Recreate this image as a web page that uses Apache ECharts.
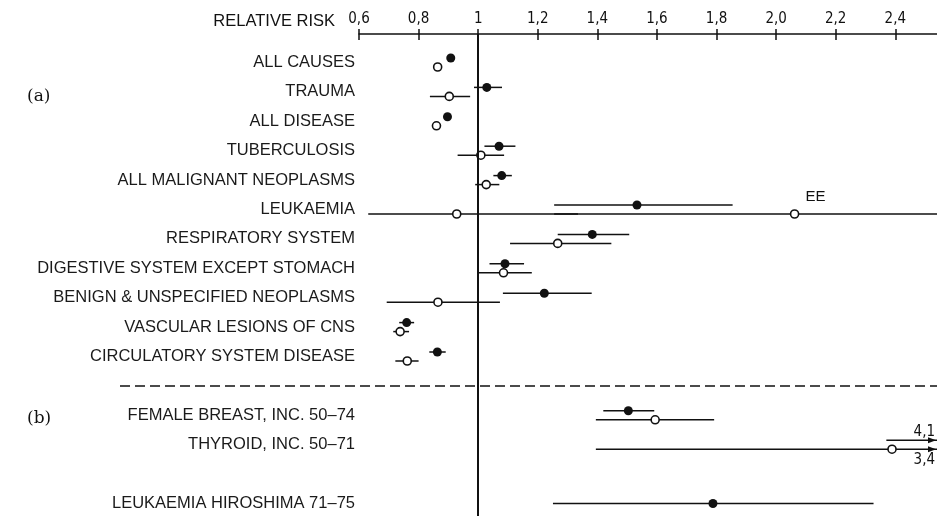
<!DOCTYPE html>
<html><head><meta charset="utf-8">
<script src="https://cdn.jsdelivr.net/npm/echarts@6/dist/echarts.min.js"></script>
<style>html,body{margin:0;padding:0;background:#fff}#c{width:937px;height:516px}</style>
</head><body><div id="c"></div>
<script>
// ---- data ----
const categories = [
  'ALL CAUSES', 'TRAUMA', 'ALL DISEASE', 'TUBERCULOSIS', 'ALL MALIGNANT NEOPLASMS',
  'LEUKAEMIA', 'RESPIRATORY SYSTEM', 'DIGESTIVE SYSTEM EXCEPT STOMACH',
  'BENIGN & UNSPECIFIED NEOPLASMS', 'VASCULAR LESIONS OF CNS', 'CIRCULATORY SYSTEM DISEASE',
  '', 'FEMALE BREAST, INC. 50–74', 'THYROID, INC. 50–71', '', 'LEUKAEMIA HIROSHIMA 71–75'
];
const tickValues = [0.6, 0.8, 1.0, 1.2, 1.4, 1.6, 1.8, 2.0, 2.2, 2.4];
const tickLabels = ['0,6', '0,8', '1', '1,2', '1,4', '1,6', '1,8', '2,0', '2,2', '2,4'];

const filledRR = [0.908, 1.029, 0.897, 1.070, 1.079, 1.533, 1.383, 1.090, 1.222, 0.760, 0.863, null, 1.504, null, null, 1.788];
const filledLo = [null, 0.986, null, 1.021, 1.051, 1.255, 1.267, 1.038, 1.083, 0.735, 0.836, null, 1.420, 2.370, null, 1.251];
const filledHi = [null, 1.080, null, 1.125, 1.113, 1.854, 1.507, 1.154, 1.381, 0.785, 0.891, null, 1.591, 4.1, null, 2.327];

const openRR = [0.864, 0.903, 0.860, 1.009, 1.027, 0.928, 1.267, 1.085, 0.865, 0.738, 0.762, null, 1.594, 2.389, null, null];
const openLo = [null, 0.838, null, 0.931, 0.990, 0.631, 1.107, 1.000, 0.693, 0.715, 0.722, null, 1.395, 1.395, null, null];
const openHi = [null, 0.973, null, 1.087, 1.071, 1.335, 1.447, 1.180, 1.073, 0.768, 0.800, null, 1.792, 3.4, null, null];

// extra open estimate on the leukaemia row (upper limit off the scale, not given)
const extraRow = [5];
const extraRR = [2.062];
const extraLo = [1.255];
const extraHi = [null];
const extraLabel = ['EE'];

// ---- layout ----
const FONT = '"Liberation Sans", Arial, Helvetica, sans-serif';
const NARROW = '"Liberation Sans Narrow", "DejaVu Sans Condensed", "Liberation Sans", sans-serif';
const INK = '#111';
const X_MIN = 0.6, X_MAX = 2.54;
const Y_MIN = -0.969, Y_MAX = 15.425;
const PAIR = 0.153;
const SEP_ROW = 11;

const labelRows = categories.map((c, i) => c ? i : -1).filter(i => i >= 0);
const fmt = v => String(v).replace('.', ',');

function rowY(i, kind) {
  const single = openRR[i] == null && openLo[i] == null;
  if (single) return i;
  return kind === 'filled' ? i - PAIR : i + PAIR;
}

const filledPts = [], openPts = [], ciMeta = [], extraPts = [];
categories.forEach((c, i) => {
  if (filledRR[i] != null) filledPts.push([filledRR[i], rowY(i, 'filled')]);
  if (openRR[i] != null) openPts.push([openRR[i], rowY(i, 'open')]);
  if (filledLo[i] != null) ciMeta.push({ lo: filledLo[i], hi: filledHi[i], y: rowY(i, 'filled'), side: 'above' });
  if (openLo[i] != null) ciMeta.push({ lo: openLo[i], hi: openHi[i], y: rowY(i, 'open'), side: 'below' });
});
extraRow.forEach((r, k) => {
  extraPts.push([extraRR[k], rowY(r, 'open')]);
  ciMeta.push({ lo: extraLo[k], hi: extraHi[k], y: rowY(r, 'open'), side: 'below' });
});

const chart = echarts.init(document.getElementById('c'), null, { renderer: 'canvas' });

const xBase = {
  type: 'value', position: 'top', min: X_MIN, max: X_MAX, interval: 0.2,
  splitLine: { show: false }
};

chart.setOption({
  animation: false,
  backgroundColor: '#fff',
  title: [
    { text: 'RELATIVE RISK', right: 602, top: 12, padding: 0,
      textStyle: { fontFamily: FONT, fontSize: 16.5, fontWeight: 'normal', color: INK, lineHeight: 19 } },
    { text: '(a)', left: 27, top: 86, padding: 0,
      textStyle: { fontFamily: '"DejaVu Serif", "Liberation Serif", serif', fontSize: 17, fontWeight: 'normal', color: INK, lineHeight: 21 } },
    { text: '(b)', left: 27, top: 408, padding: 0,
      textStyle: { fontFamily: '"DejaVu Serif", "Liberation Serif", serif', fontSize: 17, fontWeight: 'normal', color: INK, lineHeight: 21 } }
  ],
  grid: { left: 359, right: 0, top: 34, bottom: 0, containLabel: false },
  xAxis: [
    Object.assign({}, xBase, {
      axisLine: { show: true, onZero: false, lineStyle: { color: INK, width: 1.5 } },
      axisTick: { show: true, length: 5, customValues: tickValues, lineStyle: { color: INK, width: 1.5 } },
      axisLabel: {
        show: true, margin: 7, customValues: tickValues,
        formatter: v => { const k = tickValues.findIndex(t => Math.abs(t - v) < 1e-6); return k >= 0 ? tickLabels[k] : ''; },
        fontFamily: NARROW, fontSize: 15, color: INK
      }
    }),
    Object.assign({}, xBase, {
      axisLine: { show: false, onZero: false },
      axisTick: { show: true, inside: true, length: 6, customValues: tickValues, lineStyle: { color: INK, width: 1.5 } },
      axisLabel: { show: false }
    })
  ],
  yAxis: {
    type: 'value', inverse: true, min: Y_MIN, max: Y_MAX,
    axisLine: { show: false, onZero: false }, axisTick: { show: false }, splitLine: { show: false },
    axisLabel: {
      show: true, margin: 4, customValues: labelRows,
      formatter: v => categories[Math.round(v)] || '',
      fontFamily: FONT, fontSize: 16.5, color: '#1a1a1a'
    }
  },
  series: [
    {
      type: 'custom', name: 'separator', z: 1, silent: true,
      data: [[X_MIN, SEP_ROW]],
      encode: { x: 0, y: 1 },
      renderItem(params, api) {
        const y = api.coord([X_MIN, SEP_ROW])[1];
        const x2 = params.coordSys.x + params.coordSys.width;
        return { type: 'line', shape: { x1: 120, y1: y, x2: x2, y2: y },
          style: { stroke: INK, lineWidth: 1.5, lineDash: [10, 5] } };
      },
      markLine: {
        silent: true, symbol: 'none', label: { show: false },
        lineStyle: { color: INK, width: 2, type: 'solid', opacity: 1 },
        data: [{ xAxis: 1 }]
      }
    },
    {
      type: 'custom', name: 'ci', z: 2, silent: true,
      data: ciMeta.map(m => [m.lo, m.hi == null ? X_MAX : m.hi, m.y]),
      encode: { x: [0, 1], y: 2 },
      renderItem(params, api) {
        const m = ciMeta[params.dataIndex];
        const lo = Math.max(m.lo, X_MIN);
        const hi = m.hi == null ? X_MAX : Math.min(m.hi, X_MAX);
        const p1 = api.coord([lo, m.y]);
        const p2 = api.coord([hi, m.y]);
        const children = [{ type: 'line', shape: { x1: p1[0], y1: p1[1], x2: p2[0], y2: p2[1] },
          style: { stroke: INK, lineWidth: 1.5 } }];
        if (m.hi != null && m.hi > X_MAX) {
          const xr = p2[0] - 1, y = p2[1];
          children.push({ type: 'polygon', shape: { points: [[xr, y], [xr - 8, y - 3], [xr - 8, y + 3]] },
            style: { fill: INK } });
          children.push({ type: 'text', style: {
            text: fmt(m.hi), x: xr - 1, y: m.side === 'above' ? y - 1 : y + 3,
            align: 'right', verticalAlign: m.side === 'above' ? 'bottom' : 'top',
            font: '15px ' + NARROW, fill: INK } });
        }
        return { type: 'group', children };
      }
    },
    {
      type: 'scatter', name: 'filled', z: 3, silent: true,
      data: filledPts, symbol: 'circle', symbolSize: 9,
      itemStyle: { color: INK, opacity: 1 }
    },
    {
      type: 'scatter', name: 'open', z: 3, silent: true,
      data: openPts, symbol: 'circle', symbolSize: 8,
      itemStyle: { color: '#fff', borderColor: INK, borderWidth: 1.6, opacity: 1 }
    },
    {
      type: 'scatter', name: 'extra', z: 3, silent: true,
      data: extraPts, symbol: 'circle', symbolSize: 8,
      itemStyle: { color: '#fff', borderColor: INK, borderWidth: 1.6, opacity: 1 },
      label: { show: true, position: 'right', distance: 6, offset: [0, -17],
        formatter: p => extraLabel[p.dataIndex], fontFamily: FONT, fontSize: 15, color: INK }
    }
  ]
});
</script>
</body></html>
